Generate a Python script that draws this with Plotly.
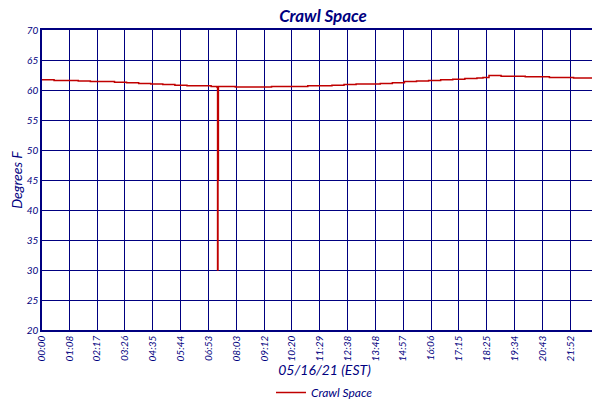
import plotly.graph_objects as go

# minutes after midnight and temperature readings (deg F)
minutes = [0, 30, 60, 90, 120, 150, 180, 210, 240, 270, 300, 330, 360, 390, 420,
           434, 436, 437, 438, 450, 480, 510, 540, 570, 600, 630, 660, 690, 720,
           750, 780, 810, 840, 870, 900, 930, 960, 990, 1020, 1050, 1080, 1095,
           1110, 1140, 1170, 1200, 1230, 1260, 1290, 1320, 1350, 1380, 1395, 1403]
temps = [61.7, 61.6, 61.6, 61.5, 61.4, 61.4, 61.3, 61.2, 61.1, 61.0, 60.9, 60.8,
         60.7, 60.7, 60.6, 60.5, 30.0, 45.0, 60.6, 60.6, 60.5, 60.5, 60.5, 60.6,
         60.6, 60.6, 60.7, 60.7, 60.8, 60.9, 61.0, 61.0, 61.1, 61.2, 61.4, 61.5,
         61.6, 61.7, 61.8, 61.9, 62.0, 62.1, 62.4, 62.3, 62.3, 62.2, 62.2, 62.1,
         62.1, 62.0, 62.0, 62.0, 61.9, 61.8]

tick_minutes = [0, 68, 137, 206, 275, 344, 413, 483, 552, 620, 689, 758, 828, 897,
                966, 1035, 1105, 1174, 1243, 1312, 1381, 1403]
tick_labels = ["00:00", "01:08", "02:17", "03:26", "04:35", "05:44", "06:53", "08:03",
               "09:12", "10:20", "11:29", "12:38", "13:48", "14:57", "16:06", "17:15",
               "18:25", "19:34", "20:43", "21:52", "23:01", "23:23"]

navy = "#000080"
fnt = dict(family="Lato, Liberation Sans, sans-serif", color=navy, style="italic")

fig = go.Figure()
fig.add_trace(go.Scatter(
    x=minutes, y=temps, mode="lines", name="Crawl Space",
    line=dict(color="#c00000", width=1.5, shape="hv")
))

fig.update_layout(
    width=600, height=400,
    margin=dict(l=34, r=1, t=22, b=67),
    paper_bgcolor="white", plot_bgcolor="white",
    title=dict(text="Crawl Space", x=0.525, y=0.995, xanchor="center", yanchor="top",
               font=dict(size=17, weight="bold", **fnt)),
    showlegend=True,
    legend=dict(orientation="h", x=0.5, xanchor="center", y=-0.16, yanchor="top",
                font=dict(size=12, **fnt)),
    xaxis=dict(
        range=[0, 1403], tickvals=tick_minutes, ticktext=tick_labels,
        tickangle=-90, tickfont=dict(size=10, **fnt), automargin=False,
        showgrid=True, gridcolor=navy, gridwidth=1,
        showline=True, linecolor=navy, linewidth=1.5, mirror=True,
        ticks="", zeroline=False,
        title=dict(text="05/16/21 (EST)", font=dict(size=14, **fnt), standoff=4),
    ),
    yaxis=dict(
        range=[20, 70], dtick=5, tickfont=dict(size=10, **fnt), automargin=False,
        showgrid=True, gridcolor=navy, gridwidth=1,
        showline=True, linecolor=navy, linewidth=1.5, mirror=True,
        ticks="", zeroline=False,
        title=dict(text="Degrees F", font=dict(size=14, **fnt), standoff=2),
    ),
)

fig.write_html("out.html")
